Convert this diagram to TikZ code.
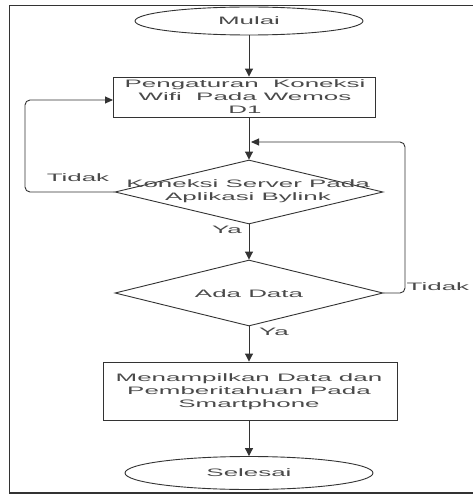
\documentclass[tikz,border=0pt]{standalone}
\usepackage{fontspec}
\setmainfont[FakeStretch=2.4]{Liberation Sans}
\usetikzlibrary{shapes.geometric,arrows.meta}
\definecolor{ln}{HTML}{333333}
\definecolor{tx}{HTML}{4A4A4A}
\tikzset{
  every node/.style={font=\fontsize{10.8}{13}\selectfont, text=tx},
  term/.style={ellipse, draw=ln, line width=0.9pt, inner sep=0pt},
  proc/.style={rectangle, draw=ln, line width=0.9pt, inner sep=0pt},
  dec/.style={diamond, draw=ln, line width=0.9pt, inner sep=0pt},
  txt/.style={align=center, inner sep=0pt},
  lbl/.style={inner sep=0pt},
  flow/.style={draw=ln, line width=1pt, -{Triangle[length=8pt,width=8pt]}},
  loop/.style={draw=ln, line width=0.9pt, rounded corners=5pt, -{Triangle[length=8pt,width=7pt]}},
}
\begin{document}
\begin{tikzpicture}[x=1pt,y=-1pt]
\useasboundingbox (0,0) rectangle (472,497);
\fill[white] (0,0) rectangle (472,497);
% frame
\draw[ln, line width=0.8pt] (476,5) -- (9,5) -- (9,493);
\draw[ln, line width=1.8pt] (9,493) -- (476,493);

\node[term, minimum width=228pt, minimum height=28pt] (m) at (249,21) {};
\node[txt] (mt) at (249,21) {Mulai};

\node[proc, minimum width=262pt, minimum height=40pt] (b1) at (244,97) {};
\node[txt] (b1t) at (245,97) {Pengaturan\ \ Koneksi\\Wifi\ \ Pada Wemos\\D1};

\node[dec, minimum width=268pt, minimum height=64pt] (d1) at (249,192) {};
\node[txt] (d1t) at (248,191) {Koneksi Server Pada\\Aplikasi Bylink};

\node[dec, minimum width=268pt, minimum height=66pt] (d2) at (249,293) {};
\node[txt] (d2t) at (249,294) {Ada Data};

\node[proc, minimum width=294pt, minimum height=58pt] (b2) at (250,391) {};
\node[txt] (b2t) at (249,392) {Menampilkan Data dan\\Pemberitahuan Pada\\Smartphone};

\node[term, minimum width=248pt, minimum height=33pt] (s) at (249,473) {};
\node[txt] (st) at (249,473) {Selesai};

% main flow
\draw[flow] (m.south) -- (m.south |- b1.north);
\draw[flow] (d1.north |- b1.south) -- (d1.north);
\draw[flow] (d1.south) -- (d2.north);
\draw[flow] (d2.south) -- (d2.south |- b2.north);
\draw[flow] (s.north |- b2.south) -- (s.north);

% loops
\coordinate (l1) at (113,100);
\draw[loop] (d1.west) -- (25,192) -- (25,100) -- (l1);
\coordinate (r1) at (251,142);
\draw[loop] (d2.east) -- (405,293) -- (405,142) -- (r1);

% labels
\node[lbl] (t1) at (78,178) {Tidak};
\node[lbl, anchor=west] (t2) at (406.5,287) {Tidak};
\node[lbl] (y1) at (227,230) {Ya};
\node[lbl] (y2) at (274,332) {Ya};
\end{tikzpicture}
\end{document}
